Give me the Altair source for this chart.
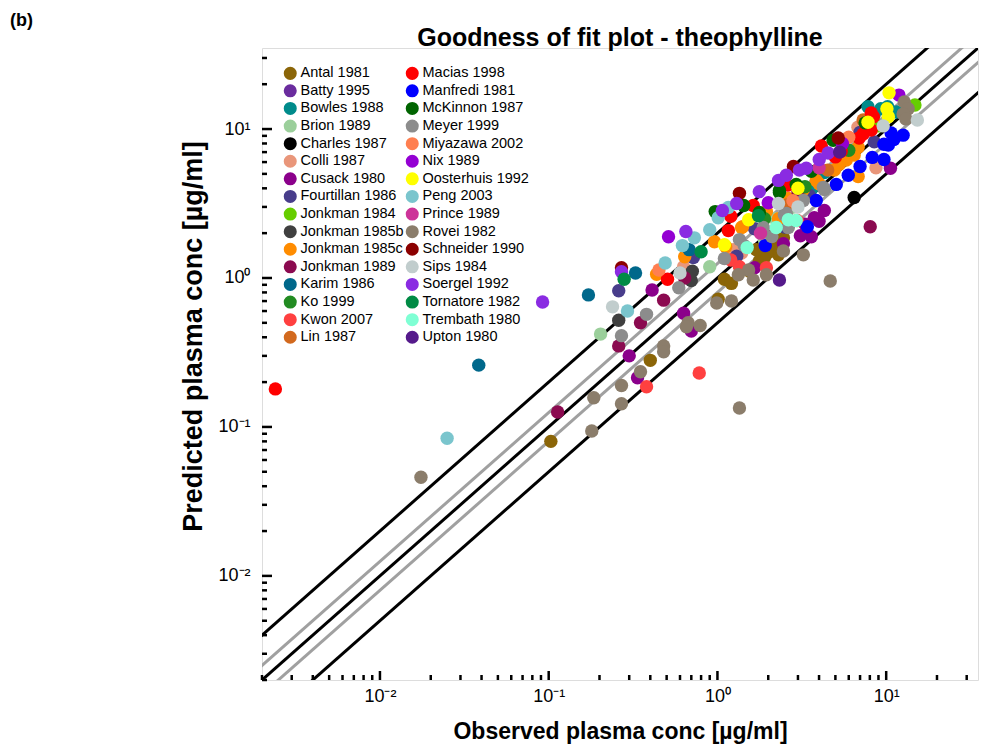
import altair as alt
import pandas as pd

# ---------------- data (observed, predicted) ----------------
ANTAL_1981 = [(0.103, 0.080), (0.40, 0.28), (1.01, 0.72), (2.09, 1.86), (2.23, 1.72), (2.09, 1.52),
              (1.90, 1.37), (1.77, 1.30), (2.30, 1.43), (1.55, 1.11), (1.10, 0.98), (1.21, 0.92),
              (2.46, 1.86), (2.0, 1.60), (1.95, 1.45), (1.7, 1.55)]
BATTY_1995 = [(2.6, 3.0), (5.2, 6.6), (1.3, 1.5)]
BOWLES_1988 = [(7.8, 14.1), (9.3, 13.7), (10.2, 14.1), (3.6, 3.93), (8.5, 12.6), (4.3, 5.1), (11.5, 13.0)]
BRION_1989 = [(0.203, 0.42), (0.90, 1.19), (2.82, 3.0), (1.9, 1.8), (2.2, 2.5)]
CHARLES_1987 = [(6.46, 3.47)]
COLLI_1987 = [(6.8, 10.3), (8.7, 5.5), (1.24, 1.55), (0.63, 1.19), (3.0, 3.5), (1.39, 1.47)]
CUSACK_1980 = [(0.30, 0.30), (0.336, 0.214), (0.63, 0.58), (0.70, 0.44), (1.66, 1.17), (4.30, 2.84),
               (3.75, 2.54), (3.60, 1.89), (3.10, 1.92), (10.6, 5.45), (0.41, 0.83), (2.46, 1.70),
               (4.0, 2.4), (3.3, 2.3)]
FOURTILLAN_1986 = [(0.26, 0.82), (0.72, 1.37), (1.66, 2.14), (8.5, 8.2), (3.5, 3.6), (2.5, 2.2),
                   (7.0, 9.5), (1.3, 1.4)]
JONKMAN_1984 = [(14.8, 14.5), (9.0, 10.5)]
JONKMAN_1985B = [(0.26, 0.52), (0.71, 1.11), (0.70, 0.96)]
JONKMAN_1985C = [(0.436, 1.06), (0.64, 1.39), (0.96, 1.75), (1.41, 2.21), (1.95, 2.79), (2.63, 3.42),
                 (3.23, 3.93), (3.85, 4.52), (4.93, 5.3), (5.27, 5.8), (5.80, 6.2), (6.46, 6.7),
                 (6.82, 7.56), (6.82, 4.8), (1.39, 2.18), (4.0, 4.3), (2.3, 2.5), (1.12, 1.62)]
JONKMAN_1989 = [(0.113, 0.126), (0.26, 0.35), (0.35, 0.50), (0.48, 0.71), (0.64, 1.0), (8.04, 2.21), (3.0, 3.8)]
KARIM_1986 = [(0.0385, 0.26), (0.172, 0.77), (0.327, 1.08), (0.68, 1.55)]
KO_1999 = [(1.9, 2.5), (3.3, 4.1), (6.0, 7.2)]
KWON_2007 = [(0.78, 0.23), (0.38, 0.186), (1.35, 1.19), (1.95, 1.17), (2.97, 2.43), (1.2, 1.32)]
LIN_1987 = [(7.3, 11.5), (4.5, 5.3), (2.6, 3.1)]
MACIAS_1998 = [(0.0024, 0.18), (0.506, 0.98), (1.16, 2.08), (1.63, 3.07), (4.13, 7.7), (5.41, 7.1),
               (6.91, 8.7), (8.15, 9.85), (8.15, 12.8), (8.4, 12.1), (7.3, 9.25), (2.6, 4.2),
               (1.2, 2.6), (5.0, 6.5), (7.6, 10.5)]
MANFREDI_1981 = [(1.92, 1.65), (3.41, 2.21), (3.85, 3.31), (5.06, 4.25), (5.96, 4.9), (7.0, 5.6),
                 (8.27, 6.45), (9.7, 6.25), (9.7, 7.9), (10.7, 9.4), (12.6, 9.1), (11.1, 8.5), (10.3, 7.8)]
MCKINNON_1987 = [(0.97, 2.79), (1.43, 3.07), (2.33, 3.75), (1.77, 2.75), (4.85, 8.4), (2.93, 4.25),
                 (2.33, 3.87), (3.6, 5.2), (7.5, 11.0)]
MEYER_1999 = [(0.27, 0.41), (0.38, 0.57), (0.59, 0.86), (1.35, 1.81), (1.44, 1.65), (1.87, 2.18),
              (2.49, 2.66), (2.63, 2.18), (4.30, 3.93), (3.23, 3.31), (2.56, 2.71), (4.24, 4.06),
              (1.1, 1.35), (2.1, 1.9)]
MIYAZAWA_2002 = [(0.45, 1.13), (6.0, 8.8), (2.8, 3.3)]
NIX_1989 = [(0.513, 1.89), (11.9, 16.9), (5.5, 8.0), (2.0, 3.2)]
OOSTERHUIS_1992 = [(10.4, 17.5), (10.1, 13.7), (7.8, 11.1), (1.53, 2.46), (1.10, 1.67), (10.3, 12.1), (3.0, 4.0)]
PENG_2003 = [(0.025, 0.084), (0.293, 0.60), (0.49, 1.26), (0.62, 1.65), (0.73, 1.86), (0.90, 2.11),
             (1.01, 2.54), (1.16, 2.97)]
PRINCE_1989 = [(1.8, 2.0), (4.0, 5.5)]
ROVEI_1982 = [(0.0175, 0.046), (0.18, 0.094), (0.185, 0.157), (0.27, 0.19), (0.27, 0.143), (0.35, 0.235),
              (0.48, 0.35), (0.48, 0.32), (0.67, 0.50), (0.79, 0.48), (0.655, 0.47), (0.99, 0.68),
              (1.35, 0.134), (4.66, 0.955), (3.23, 1.43), (1.53, 1.13), (1.33, 1.05), (1.63, 0.97),
              (1.95, 1.05), (1.21, 0.70), (12.8, 15.2), (13.5, 13.7), (12.6, 12.6), (13.1, 11.7), (2.46, 1.52)]
SCHNEIDER_1990 = [(0.27, 1.17), (1.35, 3.7), (2.82, 5.6), (5.2, 8.7)]
SIPS_1984 = [(0.239, 0.64), (0.60, 1.08), (2.30, 3.16), (15.3, 11.5), (9.6, 10.5), (3.0, 3.0)]
SOERGEL_1992 = [(0.092, 0.69), (0.27, 1.10), (0.65, 2.05), (1.07, 2.84), (1.30, 3.16), (2.30, 4.52),
                (2.56, 4.9), (3.06, 5.3), (3.36, 5.45), (4.01, 6.25), (4.53, 6.9), (1.77, 3.8)]
TORNATORE_1982 = [(0.28, 0.98), (1.75, 2.62), (0.8, 1.5)]
TREMBATH_1980 = [(2.23, 2.18), (2.63, 2.46), (2.93, 2.43), (1.5, 1.6)]
UPTON_1980 = [(2.33, 0.97), (5.3, 7.0)]

STUDIES = ["Antal 1981", "Batty 1995", "Bowles 1988", "Brion 1989", "Charles 1987", "Colli 1987",
           "Cusack 1980", "Fourtillan 1986", "Jonkman 1984", "Jonkman 1985b", "Jonkman 1985c",
           "Jonkman 1989", "Karim 1986", "Ko 1999", "Kwon 2007", "Lin 1987",
           "Macias 1998", "Manfredi 1981", "McKinnon 1987", "Meyer 1999", "Miyazawa 2002", "Nix 1989",
           "Oosterhuis 1992", "Peng 2003", "Prince 1989", "Rovei 1982", "Schneider 1990", "Sips 1984",
           "Soergel 1992", "Tornatore 1982", "Trembath 1980", "Upton 1980"]
COLORS = ["#8B6508", "#6A2C9E", "#008B8B", "#9BCF9B", "#000000", "#E9967A",
          "#8B008B", "#483D8B", "#66CD00", "#404040", "#FF8C00",
          "#8B0A50", "#00688B", "#228B22", "#FF4040", "#D2691E",
          "#FF0000", "#0000FF", "#006400", "#8C8C8C", "#FF7F50", "#9400D3",
          "#FFFF00", "#7AC5CD", "#CD3399", "#8B7D6B", "#8B0000", "#C1CDCD",
          "#8A2BE2", "#008B45", "#7FFFD4", "#551A8B"]
SERIES = [ANTAL_1981, BATTY_1995, BOWLES_1988, BRION_1989, CHARLES_1987, COLLI_1987,
          CUSACK_1980, FOURTILLAN_1986, JONKMAN_1984, JONKMAN_1985B, JONKMAN_1985C,
          JONKMAN_1989, KARIM_1986, KO_1999, KWON_2007, LIN_1987,
          MACIAS_1998, MANFREDI_1981, MCKINNON_1987, MEYER_1999, MIYAZAWA_2002, NIX_1989,
          OOSTERHUIS_1992, PENG_2003, PRINCE_1989, ROVEI_1982, SCHNEIDER_1990, SIPS_1984,
          SOERGEL_1992, TORNATORE_1982, TREMBATH_1980, UPTON_1980]

# reference lines: predicted = ratio * observed
RATIOS = [2.0, 1.25, 1.0, 0.8, 0.5]
RATIO_COLORS = ["black", "#A0A0A0", "black", "#A0A0A0", "black"]
LINE_X = [0.001, 100.0]

X_DOMAIN = [0.002, 35]
Y_DOMAIN = [0.002, 35]
MAJOR = [0.01, 0.1, 1, 10]
MINOR = [m * d for d in [0.001, 0.01, 0.1, 1, 10] for m in range(2, 10)
         if X_DOMAIN[0] <= m * d <= X_DOMAIN[1]]

TITLE = "Goodness of fit plot - theophylline"
PANEL = "(b)"
X_TITLE = "Observed plasma conc [µg/ml]"
Y_TITLE = "Predicted plasma conc [µg/ml]"

# ---------------- build tables ----------------
rows = []
for name, pts in zip(STUDIES, SERIES):
    for o, p in pts:
        rows.append({"study": name, "obs": o, "pred": p})
df = pd.DataFrame(rows)

line_rows = []
for r, c in zip(RATIOS, RATIO_COLORS):
    for x in LINE_X:
        line_rows.append({"ratio": str(r), "col": c, "obs": x, "pred": x * r})
lines_df = pd.DataFrame(line_rows)

W, H = 716, 632
FONT = "Liberation Sans"

xs = alt.Scale(type="log", domain=X_DOMAIN, nice=False)
ys = alt.Scale(type="log", domain=Y_DOMAIN, nice=False)

sup = ("round(log(datum.value)/LN10) == -2 ? '10⁻²' : round(log(datum.value)/LN10) == -1 ? '10⁻¹' : "
       "round(log(datum.value)/LN10) == 0 ? '10⁰' : '10¹'")

x_axis = alt.Axis(values=MAJOR, ticks=False, domain=False, grid=False, labelExpr=sup,
                  labelFontSize=18, labelFont=FONT, labelPadding=7, labelColor="black",
                  title=X_TITLE, titleFont=FONT, titleFontSize=23,
                  titleFontWeight="bold", titlePadding=15, titleColor="black")
y_axis = alt.Axis(values=MAJOR, ticks=False, domain=False, grid=False, labelExpr=sup,
                  labelFontSize=18, labelFont=FONT, labelPadding=12, labelColor="black",
                  title=Y_TITLE, titleFont=FONT, titleFontSize=27, titleY=288,
                  titleFontWeight="bold", titlePadding=10, titleColor="black")

X = alt.X("obs:Q", scale=xs, axis=x_axis)
Y = alt.Y("pred:Q", scale=ys, axis=y_axis)

lines = alt.Chart(lines_df).mark_line(strokeWidth=3, clip=True).encode(
    x=X, y=Y,
    detail="ratio:N",
    color=alt.Color("col:N", scale=None),
)

points = alt.Chart(df).mark_circle(size=180, opacity=1).encode(
    x=X, y=Y,
    color=alt.Color("study:N",
                    scale=alt.Scale(domain=STUDIES, range=COLORS),
                    legend=alt.Legend(title=None, orient="none", legendX=21, legendY=18, columns=2,
                                      symbolType="circle", symbolSize=170, symbolStrokeWidth=0,
                                      labelFontSize=14.5, labelFont=FONT, labelColor="black",
                                      labelOffset=3, columnPadding=1, rowPadding=2.6,
                                      labelLimit=200, symbolLimit=64)),
)

xmaj_df = pd.DataFrame({"obs": MAJOR, "pred": MAJOR})
xmin_df = pd.DataFrame({"obs": MINOR, "pred": MINOR})

x_major_ticks = alt.Chart(xmaj_df).mark_rule(color="black", strokeWidth=2.5).encode(
    x=X, y=alt.value(H), y2=alt.value(H - 9))
x_minor_ticks = alt.Chart(xmin_df).mark_rule(color="black", strokeWidth=2.5).encode(
    x=X, y=alt.value(H), y2=alt.value(H - 5))
y_major_ticks = alt.Chart(xmaj_df).mark_rule(color="black", strokeWidth=2.5).encode(
    y=Y, x=alt.value(0), x2=alt.value(10))
y_minor_ticks = alt.Chart(xmin_df).mark_rule(color="black", strokeWidth=2.5).encode(
    y=Y, x=alt.value(0), x2=alt.value(5))

panel_label = alt.Chart(pd.DataFrame({"t": [PANEL]})).mark_text(
    fontWeight="bold", fontSize=18, font=FONT, align="left", baseline="alphabetic", color="black"
).encode(text="t:N", x=alt.value(-252), y=alt.value(-22))

title_text = alt.Chart(pd.DataFrame({"t": [TITLE]})).mark_text(
    fontWeight="bold", fontSize=25, font=FONT, align="center", baseline="alphabetic", color="black"
).encode(text="t:N", x=alt.value(W / 2), y=alt.value(-2))

chart = alt.layer(
    lines, points, x_major_ticks, x_minor_ticks, y_major_ticks, y_minor_ticks, panel_label, title_text
).properties(
    width=W, height=H,
    autosize=alt.AutoSizeParams(type="none"),
    padding={"left": 262, "top": 48, "right": 6, "bottom": 70},
).configure_view(stroke="#808080", strokeWidth=1.5).configure(background="white")

chart.save("out.html", embed_options={"renderer": "svg", "actions": False})
